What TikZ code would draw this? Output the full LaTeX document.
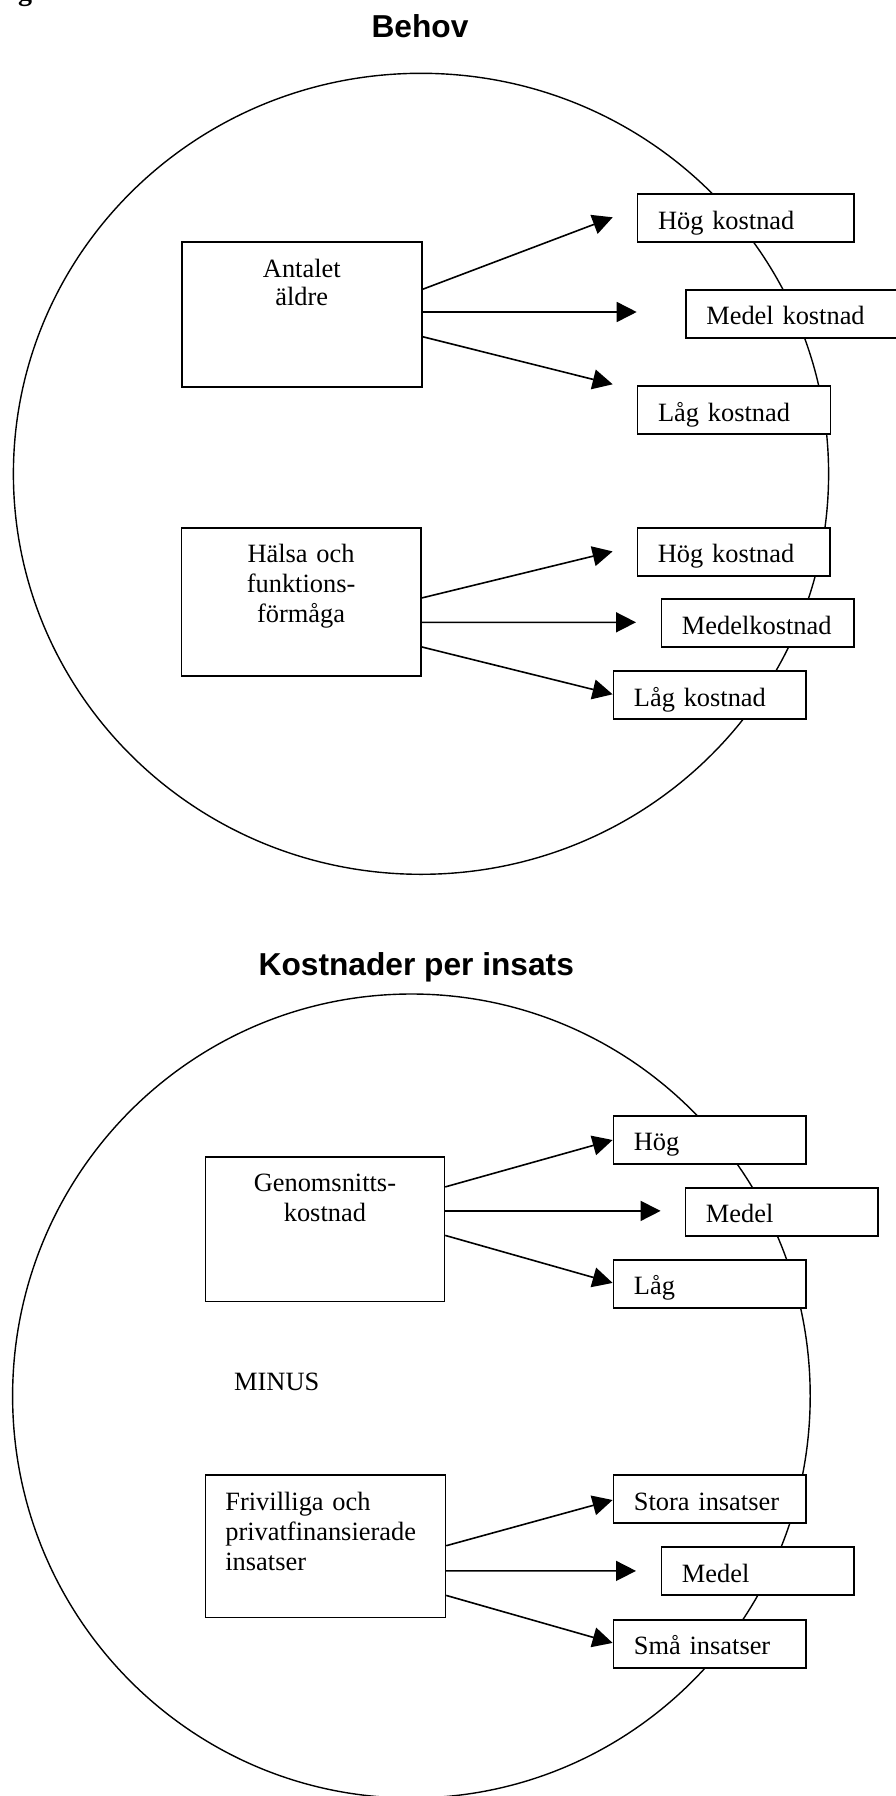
\documentclass[tikz,border=0pt]{standalone}
\usepackage{fontspec}
\setmainfont{Liberation Serif}
\newfontfamily\titlefont{Liberation Sans}
\usetikzlibrary{arrows.meta,calc}
\begin{document}
\begin{tikzpicture}[x=1pt,y=-1pt,
  every node/.style={font=\fontsize{26.4}{30}\selectfont},
  mainbox/.style={draw,fill=white,line width=1.6pt,inner xsep=0pt,inner ysep=0pt,anchor=north west,align=center,text height=35pt},
  leftbox/.style={draw,fill=white,line width=1.6pt,inner xsep=20pt,inner ysep=0pt,anchor=north west,align=left,text height=35pt},
  outbox/.style={draw,fill=white,line width=1.6pt,inner xsep=20.5pt,inner ysep=0pt,anchor=north west,align=left,text height=35pt,text depth=13pt},
  ring/.style={line width=1.4pt},
  link/.style={line width=1.6pt,-{Triangle[length=20pt,width=20pt]}},
  heading/.style={font=\titlefont\bfseries\fontsize{31.7}{36}\selectfont,anchor=base,inner sep=0pt}
]
\useasboundingbox (0,0) rectangle (896,1796);

% cut-off caption fragment
\node[anchor=base west,inner sep=0pt,font=\bfseries\fontsize{28}{30}\selectfont] (frag) at (18,1) {g};

% ---------- Behov ----------
\node[heading] (t1) at (420,37) {Behov};
\draw[ring] (421,473.8) ellipse [x radius=407.6pt, y radius=400.5pt];

\node[mainbox,text width=240pt,text depth=109pt,text height=36pt,font=\fontsize{26.4}{28}\selectfont] (A) at (181,241) {Antalet\\äldre};
\node[outbox,text width=175.6pt] (A1) at (636.7,193.3) {Hög kostnad};
\node[outbox,text width=200pt] (A2) at (685,289) {Medel kostnad};
\node[outbox,text width=152pt] (A3) at (636.7,385.3) {Låg kostnad};

\coordinate (a1s) at ($(A.north east)+(0,48.3)$);
\coordinate (a2s) at ($(A.north east)+(0,71)$);
\coordinate (a3s) at ($(A.north east)+(0,95.7)$);
\coordinate (a1e) at (612.7,217.3);
\coordinate (a2e) at (636.7,312);
\coordinate (a3e) at (612.7,384.3);
\draw[link] (a1s) -- (a1e);
\draw[link] (a2s) -- (a2e);
\draw[link] (a3s) -- (a3e);

\node[mainbox,text width=239.4pt,text depth=113.5pt] (B) at (180.6,526.9) {Hälsa och\\funktions-\\förmåga};
\node[outbox,text width=151.4pt] (B1) at (636.6,527) {Hög kostnad};
\node[outbox,text width=151.4pt] (B2) at (660.6,598.3) {Medelkostnad};
\node[outbox,text width=151.4pt] (B3) at (612.6,670.3) {Låg kostnad};

\coordinate (b1s) at ($(B.north east)+(0,71.1)$);
\coordinate (b2s) at ($(B.north east)+(0,95.4)$);
\coordinate (b3s) at ($(B.north east)+(0,120)$);
\coordinate (b1e) at (612.6,551.4);
\coordinate (b2e) at (636,622.3);
\coordinate (b3e) at (612.6,694.3);
\draw[link] (b1s) -- (b1e);
\draw[link] (b2s) -- (b2e);
\draw[link] (b3s) -- (b3e);

% ---------- Kostnader per insats ----------
\node[heading] (t2) at (416.3,975) {Kostnader per insats};
\draw[ring] (411.4,1396) ellipse [x radius=398.8pt, y radius=402pt];

\node[mainbox,text width=239pt,text depth=109.6pt] (C) at (204.6,1156) {Genomsnitts-\\kostnad};
\node[outbox,text width=151.4pt] (C1) at (612.6,1114.9) {Hög};
\node[outbox,text width=151.4pt] (C2) at (684.6,1186.9) {Medel};
\node[outbox,text width=151.4pt] (C3) at (612.6,1258.9) {Låg};

\coordinate (c1s) at ($(C.north east)+(0,30.9)$);
\coordinate (c2s) at ($(C.north east)+(0,54.9)$);
\coordinate (c3s) at ($(C.north east)+(0,79.4)$);
\coordinate (c1e) at (612.6,1140);
\coordinate (c2e) at (660.6,1210.9);
\coordinate (c3e) at (612.6,1282.9);
\draw[link] (c1s) -- (c1e);
\draw[link] (c2s) -- (c2e);
\draw[link] (c3s) -- (c3e);

\node[anchor=base west,inner sep=0pt] (minus) at (234,1390) {MINUS};

\node[leftbox,text width=200pt,text depth=107.3pt] (D) at (204.6,1474.3) {Frivilliga och\\privatfinansierade\\insatser};
\node[outbox,text width=151.4pt] (D1) at (612.6,1474.3) {Stora insatser};
\node[outbox,text width=151.4pt] (D2) at (660.6,1546.3) {Medel};
\node[outbox,text width=151.4pt] (D3) at (612.6,1618.9) {Små insatser};

\coordinate (d1s) at ($(D.north east)+(0,71.4)$);
\coordinate (d2s) at ($(D.north east)+(0,96.6)$);
\coordinate (d3s) at ($(D.north east)+(0,121.1)$);
\coordinate (d1e) at (612.6,1500);
\coordinate (d2e) at (636,1570.9);
\coordinate (d3e) at (612.6,1642.9);
\draw[link] (d1s) -- (d1e);
\draw[link] (d2s) -- (d2e);
\draw[link] (d3s) -- (d3e);
\end{tikzpicture}
\end{document}
